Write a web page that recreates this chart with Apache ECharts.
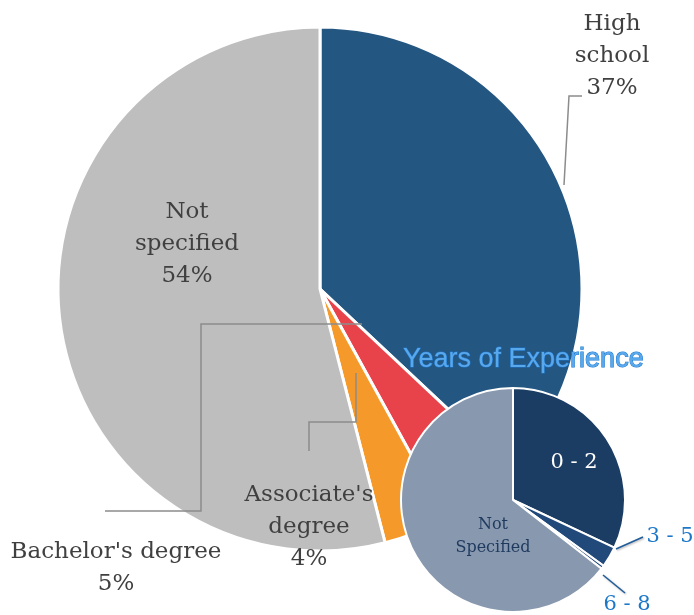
<!DOCTYPE html>
<html>
<head>
<meta charset="utf-8">
<title>Education / Years of Experience</title>
<script src="https://cdn.jsdelivr.net/npm/echarts@6/dist/echarts.min.js"></script>
<style>
  html, body { margin: 0; padding: 0; background: #fff; }
  #main { width: 694px; height: 615px; }
</style>
</head>
<body>
<div id="main"></div>
<script>
// big pie: education (clockwise from 12 o'clock)
var eduNames = ["High\nschool", "Bachelor's degree", "Associate's\ndegree", "Not\nspecified"];
var eduValues = [37, 5, 4, 54];
var eduColors = ["#245682", "#E8434B", "#F59A2A", "#BEBEBE"];

// small pie: years of experience (clockwise from 12 o'clock)
var expNames = ["0 - 2", "3 - 5", "6 - 8", "Not\nSpecified"];
var expValues = [32, 3, 0.5, 64.5];
var expColors = ["#1B3D63", "#21497A", "#21497A", "#8898AE"];

var serif = "DejaVu Serif";

// label anchor + leader line per slice
var eduLabelPos = [
  { x: 612, y: 56, line: [[564, 185], [569, 96], [582, 96]] },
  { x: 116, y: 568, line: [[362, 324], [201, 324], [201, 511], [105, 511]] },
  { x: 309, y: 527, line: [[356, 373], [356, 422], [309, 422], [309, 451]] },
  { x: 187, y: 244, line: null }
];
var expLabelPos = [
  { x: 574, y: 463, line: null },
  { x: 670, y: 537, line: [[616, 549], [643, 537]] },
  { x: 627, y: 605, line: [[603, 575], [625, 593]] },
  { x: 493, y: 536, line: null }
];

var chart = echarts.init(document.getElementById("main"));

function layoutFor(list) {
  return function (params) {
    var p = list[params.dataIndex];
    var o = { x: p.x, y: p.y, align: "center", verticalAlign: "middle" };
    if (p.line) o.labelLinePoints = p.line;
    return o;
  };
}

// filled slices, no labels
var eduSlices = eduNames.map(function (n, i) {
  return { name: n, value: eduValues[i], itemStyle: { color: eduColors[i] } };
});
// same slices again, transparent, only to carry labels + leader lines above the fill
var eduLabels = eduNames.map(function (n, i) {
  var d = { name: n, value: eduValues[i] };
  if (i === 3) {
    d.label = { position: "inside" };
    d.labelLine = { show: false };
  }
  return d;
});

var expData = expNames.map(function (n, i) {
  var d = { name: n, value: expValues[i], itemStyle: { color: expColors[i] } };
  if (i === 0) {
    d.label = { position: "inside", color: "#fff", fontSize: 21 };
    d.labelLine = { show: false };
  }
  if (i === 3) {
    d.label = { position: "inside", color: "#1F3A5F", fontSize: 16, lineHeight: 23 };
    d.labelLine = { show: false };
  }
  return d;
});

var bigPie = {
  type: "pie",
  center: [320, 289],
  radius: 262,
  startAngle: 90,
  clockwise: true,
  emphasis: { disabled: true },
  silent: true
};

chart.setOption({
  animation: false,
  title: {
    text: "Years of Experience",
    left: 398,
    top: 341,
    textStyle: {
      fontFamily: "Liberation Sans",
      fontWeight: "normal",
      fontSize: 27,
      color: "#5AA8EC",
      textBorderColor: "#1C78CF",
      textBorderWidth: 1
    }
  },
  series: [
    Object.assign({}, bigPie, {
      z: 1,
      itemStyle: { borderColor: "#fff", borderWidth: 3 },
      label: { show: false },
      labelLine: { show: false },
      data: eduSlices
    }),
    Object.assign({}, bigPie, {
      z: 2,
      itemStyle: { color: "rgba(0,0,0,0)", borderWidth: 0 },
      label: {
        position: "outside",
        fontFamily: serif,
        fontSize: 23,
        lineHeight: 32,
        width: 240,
        align: "center",
        color: "#404040",
        formatter: function (p) {
          return p.name + "\n" + eduValues[p.dataIndex] + "%";
        }
      },
      labelLine: { show: true, lineStyle: { color: "#8C8C8C", width: 1.5 } },
      labelLayout: layoutFor(eduLabelPos),
      data: eduLabels
    }),
    {
      type: "pie",
      center: [513, 500],
      radius: 112,
      startAngle: 90,
      clockwise: true,
      z: 3,
      silent: true,
      itemStyle: { borderColor: "#fff", borderWidth: 2 },
      label: {
        position: "outside",
        fontFamily: serif,
        fontSize: 21,
        width: 120,
        align: "center",
        color: "#1E78C8",
        formatter: "{b}"
      },
      labelLine: {
        show: true,
        lineStyle: {
          color: "#1F5C99",
          width: 1.5,
          shadowColor: "rgba(0,0,0,0.3)",
          shadowBlur: 2,
          shadowOffsetX: 1,
          shadowOffsetY: 1
        }
      },
      labelLayout: layoutFor(expLabelPos),
      emphasis: { disabled: true },
      data: expData
    }
  ]
});
</script>
</body>
</html>
